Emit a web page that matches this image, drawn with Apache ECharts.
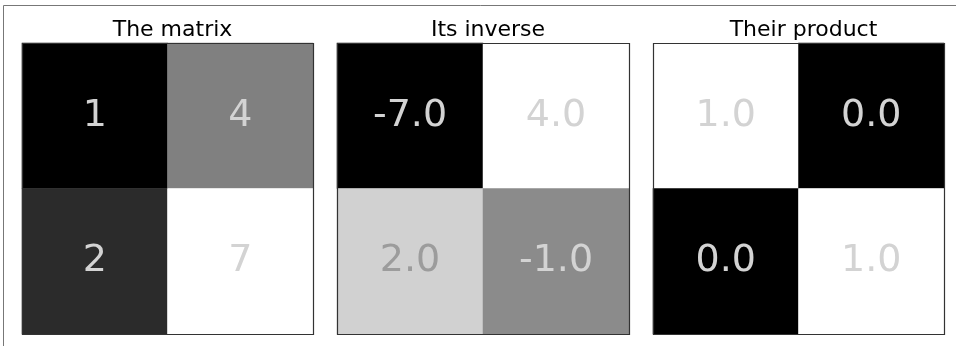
<!DOCTYPE html>
<html><head><meta charset="utf-8">
<script src="https://cdn.jsdelivr.net/npm/echarts@6/dist/echarts.min.js"></script>
<style>html,body{margin:0;padding:0;background:#fff}#c{width:956px;height:346px}</style>
</head><body><div id="c"></div>
<script>
const titles = ['The matrix', 'Its inverse', 'Their product'];
const rows = ['0', '1'];
const cols = ['0', '1'];
const matrixVals = [[1, 4], [2, 7]];
const inverseVals = [[-7.0, 4.0], [2.0, -1.0]];
const productVals = [[1.0, 0.0], [0.0, 1.0]];
const decimals = [0, 1, 1];

(function () {
const panels = [matrixVals, inverseVals, productVals];
const lefts = [22, 337, 653];
const widths = [291, 292, 291];
const gTop = 43, gH = 291;
const font = 'DejaVu Sans';

const chart = echarts.init(document.getElementById('c'), null, {renderer: 'canvas'});
const grid = [], xAxis = [], yAxis = [], series = [], visualMap = [], title = [];
const graphic = [
  {type: 'line', shape: {x1: 3.5, y1: 5.5, x2: 960, y2: 5.5}, style: {stroke: '#777', lineWidth: 1}},
  {type: 'line', shape: {x1: 3.5, y1: 5.5, x2: 3.5, y2: 350}, style: {stroke: '#777', lineWidth: 1}}
];
panels.forEach((m, i) => {
  grid.push({left: lefts[i], top: gTop, width: widths[i], height: gH, show: false, containLabel: false});
  xAxis.push({type: 'category', data: cols, gridIndex: i, show: false});
  yAxis.push({type: 'category', data: rows, gridIndex: i, inverse: true, show: false});
  const flat = [];
  m.forEach((r) => r.forEach((v) => flat.push(v)));
  const mn = Math.min(...flat), mx = Math.max(...flat);
  visualMap.push({show: false, seriesIndex: i, min: mn, max: mx, dimension: 2,
    inRange: {color: ['#000000', '#ffffff']}});
  const data = [];
  m.forEach((r, ri) => r.forEach((v, ci) => {
    const item = {value: [ci, ri, v]};
    const t = (v - mn) / (mx - mn);
    if (t > 0.7 && t < 0.95) item.label = {color: '#9c9c9c'};
    data.push(item);
  }));
  series.push({type: 'heatmap', xAxisIndex: i, yAxisIndex: i, data: data,
    itemStyle: {borderWidth: 0},
    emphasis: {disabled: true},
    label: {show: true, color: '#d3d3d3', fontFamily: font, fontSize: 38,
      formatter: p => p.value[2].toFixed(decimals[i])}});
  title.push({text: titles[i], left: lefts[i] + widths[i] / 2, top: 14, textAlign: 'center',
    textStyle: {fontFamily: font, fontSize: 22, fontWeight: 'normal', color: '#000'}});
  graphic.push({type: 'rect', z: 100, silent: true,
    shape: {x: lefts[i] + 0.5, y: gTop + 0.5, width: widths[i], height: gH},
    style: {fill: 'none', stroke: '#333', lineWidth: 1.2}});
});

chart.setOption({
  animation: false,
  title, grid, xAxis, yAxis, series, visualMap, graphic
});
})();
</script></body></html>
